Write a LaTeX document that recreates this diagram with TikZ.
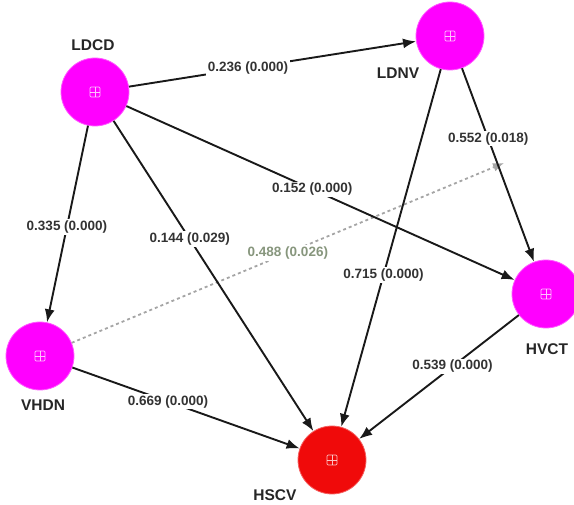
\documentclass[tikz,border=0pt]{standalone}
\usepackage{fontspec}
\setmainfont{Liberation Sans}
\usetikzlibrary{arrows.meta}
\definecolor{magentaC}{RGB}{255,0,255}
\definecolor{redC}{RGB}{240,10,10}
\definecolor{modgreen}{RGB}{135,150,125}
\definecolor{dotgray}{RGB}{165,165,165}
\tikzset{
  construct/.style={circle, minimum size=68pt, inner sep=0pt, draw=#1!65!white, line width=0.8pt, fill=#1,
    path picture={
      \draw[white, opacity=0.75, line width=0.7pt, rounded corners=1.2pt]
        ([shift={(-5pt,-5pt)}]path picture bounding box.center) rectangle ([shift={(5pt,5pt)}]path picture bounding box.center);
      \draw[white, opacity=0.75, line width=0.7pt]
        ([shift={(-5pt,0pt)}]path picture bounding box.center) -- ([shift={(5pt,0pt)}]path picture bounding box.center)
        ([shift={(0pt,-5pt)}]path picture bounding box.center) -- ([shift={(0pt,5pt)}]path picture bounding box.center);
    }},
  cname/.style={font=\fontsize{15.5}{18}\selectfont\bfseries, text=black!85, inner sep=1pt},
  path/.style={draw=black!90, line width=1.9pt, -{Latex[length=13pt,width=10pt]}},
  coef/.style={font=\fontsize{13.5}{16}\selectfont\bfseries, text=black!80, fill=white, inner sep=1.5pt},
  modpath/.style={draw=dotgray, line width=1.8pt, dash pattern=on 3pt off 3pt, -{Latex[length=11pt,width=9pt]}},
  modcoef/.style={font=\fontsize{13.5}{16}\selectfont\bfseries, text=modgreen, fill=white, inner sep=1.5pt}
}
\begin{document}
\begin{tikzpicture}[x=1pt,y=-1pt]
\useasboundingbox (0,0) rectangle (574,505);
% constructs
\node[construct=magentaC] (ldcd) at (95,92) {};
\node[construct=magentaC] (ldnv) at (450,36) {};
\node[construct=magentaC] (hvct) at (546,294) {};
\node[construct=magentaC] (vhdn) at (40,356) {};
\node[construct=redC] (hscv) at (332,460) {};
% names
\node[cname] (ldcdL) at (93,45) {LDCD};
\node[cname] (ldnvL) at (398,73) {LDNV};
\node[cname] (hvctL) at (547,349) {HVCT};
\node[cname] (vhdnL) at (43,405) {VHDN};
\node[cname] (hscvL) at (275,495) {HSCV};
% moderation end
\coordinate (modend) at (504,163);
\draw[modpath] (vhdn) -- node[modcoef, pos=0.5] (m1) {0.488 (0.026)} (modend);
% paths
\draw[path] (ldcd) -- node[coef, pos=0.415] (c1) {0.236 (0.000)} (ldnv);
\draw[path] (ldcd) -- node[coef, pos=0.515] (c2) {0.335 (0.000)} (vhdn);
\draw[path] (ldcd) -- node[coef, pos=0.381] (c3) {0.144 (0.029)} (hscv);
\draw[path] (ldcd) -- node[coef, pos=0.479] (c4) {0.152 (0.000)} (hvct);
\draw[path] (ldnv) -- node[coef, pos=0.364] (c5) {0.552 (0.018)} (hvct);
\draw[path] (ldnv) -- node[coef, pos=0.575] (c6) {0.715 (0.000)} (hscv);
\draw[path] (vhdn) -- node[coef, pos=0.421] (c7) {0.669 (0.000)} (hscv);
\draw[path] (hvct) -- node[coef, pos=0.415] (c8) {0.539 (0.000)} (hscv);
\end{tikzpicture}
\end{document}
